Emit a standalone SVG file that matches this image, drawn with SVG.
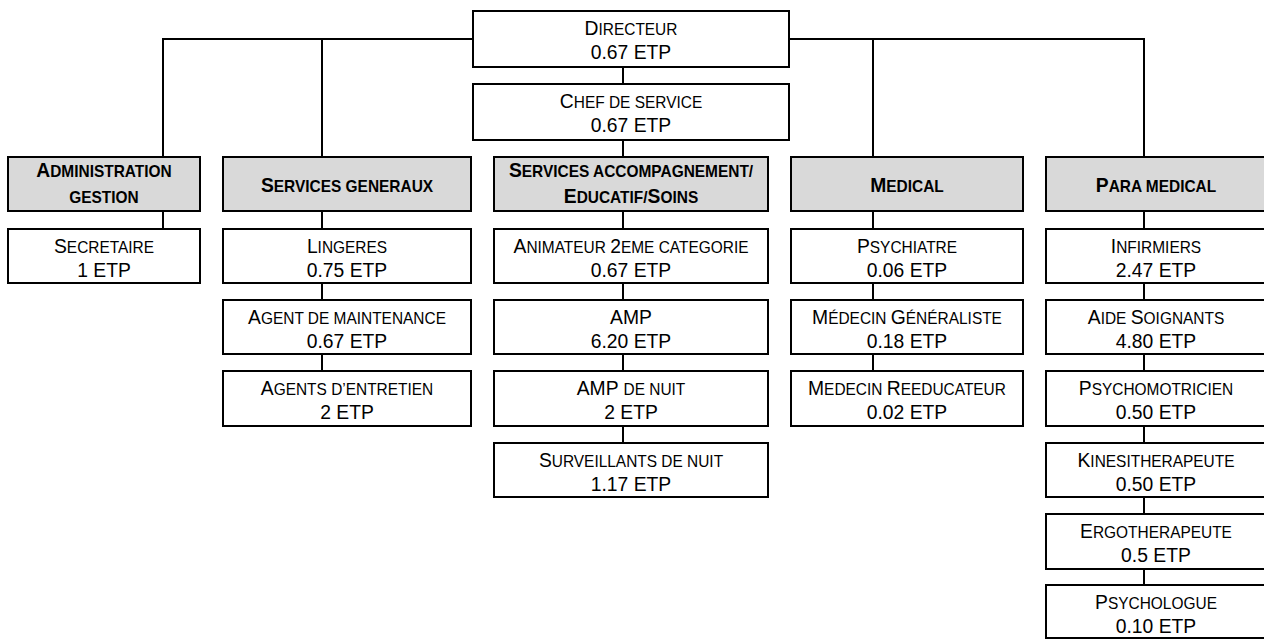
<svg xmlns="http://www.w3.org/2000/svg" width="1264" height="639" viewBox="0 0 1264 639">
<style>
.box{fill:#fff;stroke:#000;stroke-width:2}
.hdr{fill:#d9d9d9;stroke:#000;stroke-width:2}
.c{fill:none;stroke:#000;stroke-width:2}
text{font-family:"Liberation Sans Narrow","Arial Narrow","Liberation Sans",Arial,sans-serif;font-size:21px;text-anchor:middle;fill:#000;transform-box:fill-box;transform-origin:center;transform:scaleX(0.92)}
.b{font-weight:bold}
.s{font-size:16.8px}
</style>
<rect width="1264" height="639" fill="#fff"/>
<g id="connectors">
<path class="c" d="M163,156 V39 H1144 V156"/>
<path class="c" d="M322,39 V156"/>
<path class="c" d="M873,39 V156"/>
<path class="c" d="M623,68 V156"/>
<path class="c" d="M163,211 V229"/>
<path class="c" d="M322,211 V371"/>
<path class="c" d="M623,211 V443"/>
<path class="c" d="M873,211 V371"/>
<path class="c" d="M1144,211 V586"/>
</g>
<g id="directeur"><rect class="box" x="473" y="11" width="316" height="56"/><text x="631" y="35">D<tspan class="s">IRECTEUR</tspan></text><text x="631" y="59">0.67 ETP</text></g>
<g id="chef"><rect class="box" x="473" y="84" width="316" height="56"/><text x="631" y="108">C<tspan class="s">HEF DE SERVICE</tspan></text><text x="631" y="132">0.67 ETP</text></g>
<g id="h-admin"><rect class="hdr" x="8" y="157" width="192" height="54"/><text class="b" x="104" y="177">A<tspan class="s">DMINISTRATION</tspan></text><text class="b" x="104" y="203"><tspan class="s">GESTION</tspan></text></g>
<g id="h-sg"><rect class="hdr" x="223" y="157" width="248" height="54"/><text class="b" x="347" y="192">S<tspan class="s">ERVICES GENERAUX</tspan></text></g>
<g id="h-acc"><rect class="hdr" x="494" y="157" width="274" height="54"/><text class="b" x="631" y="177">S<tspan class="s">ERVICES ACCOMPAGNEMENT/</tspan></text><text class="b" x="631" y="203">E<tspan class="s">DUCATIF/</tspan>S<tspan class="s">OINS</tspan></text></g>
<g id="h-med"><rect class="hdr" x="791" y="157" width="232" height="54"/><text class="b" x="907" y="192">M<tspan class="s">EDICAL</tspan></text></g>
<g id="h-para"><rect class="hdr" x="1046" y="157" width="222" height="54"/><text class="b" x="1156" y="192">P<tspan class="s">ARA MEDICAL</tspan></text></g>
<g id="secretaire"><rect class="box" x="8" y="229" width="192" height="54"/><text x="104" y="253">S<tspan class="s">ECRETAIRE</tspan></text><text x="104" y="277">1 ETP</text></g>
<g id="lingeres"><rect class="box" x="223" y="229" width="248" height="54"/><text x="347" y="253">L<tspan class="s">INGERES</tspan></text><text x="347" y="277">0.75 ETP</text></g>
<g id="maintenance"><rect class="box" x="223" y="300" width="248" height="54"/><text x="347" y="324">A<tspan class="s">GENT DE MAINTENANCE</tspan></text><text x="347" y="348">0.67 ETP</text></g>
<g id="entretien"><rect class="box" x="223" y="371" width="248" height="55"/><text x="347" y="395">A<tspan class="s">GENTS D’ENTRETIEN</tspan></text><text x="347" y="419">2 ETP</text></g>
<g id="animateur"><rect class="box" x="494" y="229" width="274" height="54"/><text x="631" y="253">A<tspan class="s">NIMATEUR </tspan>2<tspan class="s">EME CATEGORIE</tspan></text><text x="631" y="277">0.67 ETP</text></g>
<g id="amp"><rect class="box" x="494" y="300" width="274" height="54"/><text x="631" y="324">AMP</text><text x="631" y="348">6.20 ETP</text></g>
<g id="amp-nuit"><rect class="box" x="494" y="371" width="274" height="55"/><text x="631" y="395">AMP <tspan class="s">DE NUIT</tspan></text><text x="631" y="419">2 ETP</text></g>
<g id="surveillants"><rect class="box" x="494" y="443" width="274" height="54"/><text x="631" y="467">S<tspan class="s">URVEILLANTS DE NUIT</tspan></text><text x="631" y="491">1.17 ETP</text></g>
<g id="psychiatre"><rect class="box" x="791" y="229" width="232" height="54"/><text x="907" y="253">P<tspan class="s">SYCHIATRE</tspan></text><text x="907" y="277">0.06 ETP</text></g>
<g id="generaliste"><rect class="box" x="791" y="300" width="232" height="54"/><text x="907" y="324">M<tspan class="s">ÉDECIN </tspan>G<tspan class="s">ÉNÉRALISTE</tspan></text><text x="907" y="348">0.18 ETP</text></g>
<g id="reeducateur"><rect class="box" x="791" y="371" width="232" height="55"/><text x="907" y="395">M<tspan class="s">EDECIN </tspan>R<tspan class="s">EEDUCATEUR</tspan></text><text x="907" y="419">0.02 ETP</text></g>
<g id="infirmiers"><rect class="box" x="1046" y="229" width="222" height="54"/><text x="1156" y="253">I<tspan class="s">NFIRMIERS</tspan></text><text x="1156" y="277">2.47 ETP</text></g>
<g id="aide"><rect class="box" x="1046" y="300" width="222" height="54"/><text x="1156" y="324">A<tspan class="s">IDE </tspan>S<tspan class="s">OIGNANTS</tspan></text><text x="1156" y="348">4.80 ETP</text></g>
<g id="psychomotricien"><rect class="box" x="1046" y="371" width="222" height="55"/><text x="1156" y="395">P<tspan class="s">SYCHOMOTRICIEN</tspan></text><text x="1156" y="419">0.50 ETP</text></g>
<g id="kine"><rect class="box" x="1046" y="443" width="222" height="54"/><text x="1156" y="467">K<tspan class="s">INESITHERAPEUTE</tspan></text><text x="1156" y="491">0.50 ETP</text></g>
<g id="ergo"><rect class="box" x="1046" y="514" width="222" height="55"/><text x="1156" y="538">E<tspan class="s">RGOTHERAPEUTE</tspan></text><text x="1156" y="562">0.5 ETP</text></g>
<g id="psychologue"><rect class="box" x="1046" y="585" width="222" height="53"/><text x="1156" y="609">P<tspan class="s">SYCHOLOGUE</tspan></text><text x="1156" y="633">0.10 ETP</text></g>
</svg>
